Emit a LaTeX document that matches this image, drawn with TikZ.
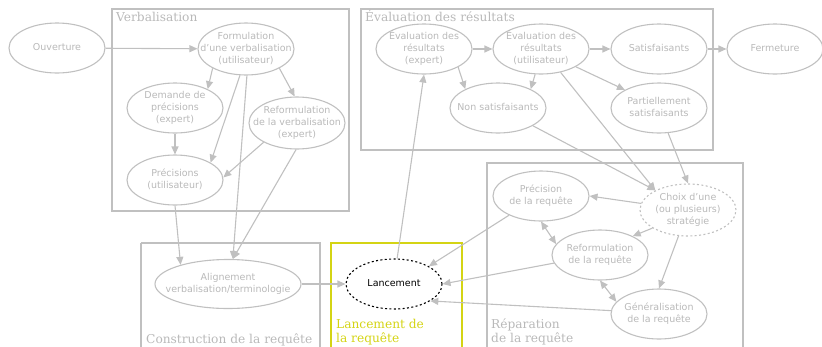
\documentclass[tikz,border=0pt]{standalone}
\usepackage{fontspec}
\setmainfont{DejaVu Sans}
\newfontfamily\clfont{DejaVu Serif}
\usetikzlibrary{shapes.geometric,arrows.meta}
\definecolor{lg}{RGB}{192,192,192}
\definecolor{lt}{RGB}{185,185,185}
\definecolor{yl}{RGB}{212,212,20}
\newcommand{\lbl}[1]{\raisebox{-4pt}{\smash{\makebox[0pt]{\begin{tabular}{@{}c@{}}#1\end{tabular}}}}}
\tikzset{
  st/.style={ellipse, draw=lg, line width=1.1pt, inner sep=0pt, minimum width=96pt, minimum height=50pt,
    text=lt, font=\fontsize{9.5}{12}\selectfont},
  edge/.style={draw=lg, line width=1.1pt, -{Triangle[length=8pt,width=7pt]}},
  bedge/.style={draw=lg, line width=1.1pt, {Triangle[length=8pt,width=7pt]}-{Triangle[length=8pt,width=7pt]}},
  clus/.style={draw=lg, line width=1.1pt},
  cltext/.style={text=lt, font=\clfont\fontsize{12.2}{14}\selectfont, inner sep=0pt, anchor=base west, align=left},
}
\begin{document}
\begin{tikzpicture}[x=1pt,y=-1pt]
\useasboundingbox (0,0) rectangle (822,346);
% clusters
\draw[clus] (112,9) rectangle (349,211);
\node[cltext] (lv) at (116,21) {Verbalisation};
\draw[clus] (361,9) rectangle (713,150);
\node[cltext] (le) at (365,21) {Évaluation des résultats};
\draw[clus] (141,243) -- (141,347) (141,243) -- (320,243) -- (320,347);
\node[cltext] (lc) at (146,343) {Construction de la requête};
\draw[draw=yl, line width=1.1pt] (331,347) -- (331,243) -- (462,243) -- (462,347);
\node[cltext, text=yl] (ll) at (336,342) {Lancement de\\la requête};
\draw[clus] (487,347) -- (487,163) -- (743,163) -- (743,347);
\node[cltext] (lr) at (491,342) {Réparation\\de la requête};
% nodes
\node[st] (ouv) at (57,48) {\lbl{Ouverture}};
\node[st, minimum height=52pt] (form) at (246,49) {\lbl{Formulation\\d'une verbalisation\\(utilisateur)}};
\node[st] (dem) at (175,108) {\lbl{Demande de\\précisions\\(expert)}};
\node[st, minimum height=52pt] (refv) at (297,123) {\lbl{Reformulation\\de la verbalisation\\(expert)}};
\node[st] (prc) at (175,180) {\lbl{Précisions\\(utilisateur)}};
\node[st, minimum width=146pt, minimum height=49pt] (ali) at (228,284) {\lbl{Alignement\\verbalisation/terminologie}};
\node[st, draw=black, dash pattern=on 2pt off 2.4pt, text=black] (lan) at (394,284) {\lbl{Lancement}};
\node[st] (eve) at (424,49) {\lbl{Évaluation des\\résultats\\(expert)}};
\node[st] (evu) at (541,49) {\lbl{Évaluation des\\résultats\\(utilisateur)}};
\node[st] (sat) at (659,49) {\lbl{Satisfaisants}};
\node[st] (fer) at (775,49) {\lbl{Fermeture}};
\node[st] (non) at (498,108) {\lbl{Non satisfaisants}};
\node[st] (par) at (659,108) {\lbl{Partiellement\\satisfaisants}};
\node[st] (pre) at (541,196) {\lbl{Précision\\de la requête}};
\node[st, minimum height=52pt, dash pattern=on 2pt off 2.4pt] (cho) at (688,210) {\lbl{Choix d'une\\(ou plusieurs)\\stratégie}};
\node[st] (rfr) at (600,255) {\lbl{Reformulation\\de la requête}};
\node[st] (gen) at (659,314) {\lbl{Généralisation\\de la requête}};
% edges
\draw[edge] (ouv) -- (form);
\draw[edge] (form.210) -- (dem.30);
\draw[edge] (form.330) -- (refv.95);
\draw[edge] (form.257) -- (prc.26);
\draw[edge] (form.272) -- (ali.79);
\draw[edge] (dem) -- (prc);
\draw[edge] (refv.210) -- (prc.3);
\draw[edge] (refv.268) -- (ali.79);
\draw[edge] (prc.south) -- (ali.158);
\draw[edge] (ali) -- (lan);
\draw[edge] (lan.83) -- (eve.south);
\draw[edge] (eve) -- (evu);
\draw[edge] (eve.332) -- (non.150);
\draw[edge] (evu.257) -- (non.30);
\draw[edge] (evu) -- (sat);
\draw[edge] (evu.333) -- (par.152);
\draw[edge] (evu.310) -- (cho.149);
\draw[edge] (sat) -- (fer);
\draw[edge] (non.333) -- (cho.149);
\draw[edge] (par.290) -- (cho.north);
\draw[edge] (cho.172) -- (pre.0);
\draw[edge] (cho.207) -- (rfr.30);
\draw[edge] (cho.250) -- (gen.90);
\draw[bedge] (pre.270) -- (rfr.166);
\draw[bedge] (rfr.270) -- (gen.164);
\draw[edge] (pre.211) -- (lan.27);
\draw[edge] (rfr.190) -- (lan.east);
\draw[edge] (gen.176) -- (lan.335);
\end{tikzpicture}
\end{document}
